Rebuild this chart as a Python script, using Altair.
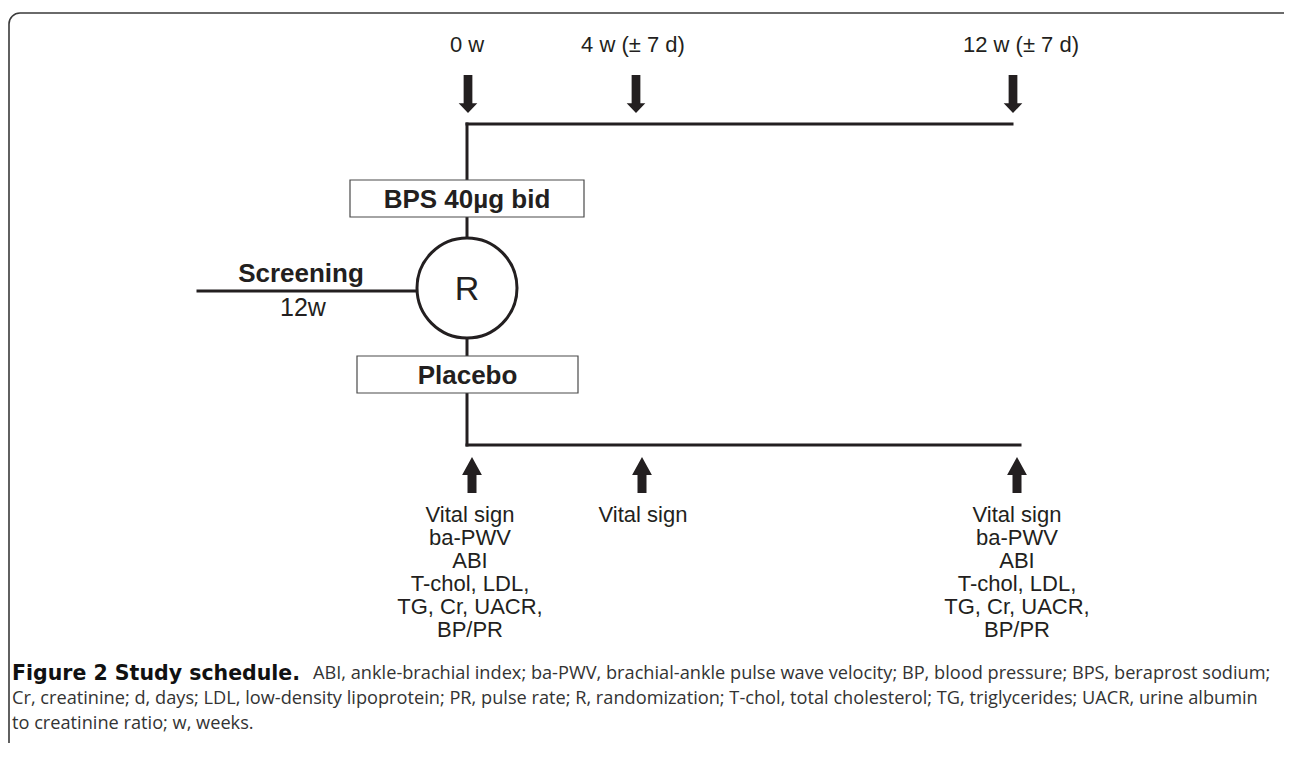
import altair as alt
import pandas as pd

# ---------------- canvas / coordinate system (pixel-like units) ----------------
W, H = 1276, 735
X0, Y0 = 8, 8
XS = alt.Scale(domain=[X0, X0 + W], nice=False, zero=False)
YS = alt.Scale(domain=[Y0, Y0 + H], nice=False, zero=False, reverse=True)

INK = "#231f20"
FONT = "Liberation Sans"
CAP_FONT = "Open Sans"
CAP_BOLD_FONT = "DejaVu Sans"

# ---------------- data ----------------
# timeline labels (top)
top_labels = ["0 w", "4 w (\u00b1 7 d)", "12 w (\u00b1 7 d)"]
top_label_x = [467, 633, 1021]
top_label_y = [45, 45, 45]

# downward arrows (visits, top)
down_arrow_x = [468, 636, 1013]
down_arrow_y = [94, 94, 94]

# upward arrows (visits, bottom)
up_arrow_x = [472, 642, 1017]
up_arrow_y = [475, 475, 475]

# connecting line segments
seg_x1 = [198, 467, 467, 467, 467, 467, 467]
seg_x2 = [418, 1012, 467, 467, 467, 467, 1020]
seg_y1 = [291, 124, 124, 217, 338, 393, 445]
seg_y2 = [291, 124, 180, 238, 356, 445, 445]

# treatment boxes
box_labels = ["BPS 40\u00b5g bid", "Placebo"]
box_x1 = [350, 357]
box_x2 = [584, 578]
box_y1 = [180, 356]
box_y2 = [217, 393]

# randomisation circle
circle_x = [467]
circle_y = [288]
circle_label = ["R"]

# screening
screen_labels = ["Screening", "12w"]
screen_x = [301, 303]
screen_y = [274, 308]
screen_bold = ["bold", "normal"]

# assessments under bottom arrows
assess_full = ["Vital sign", "ba-PWV", "ABI", "T-chol, LDL,", "TG, Cr, UACR,", "BP/PR"]
assess_mid = ["Vital sign"]
assess_col_x = [470, 643, 1017]
assess_top_y = 515
assess_step = 23

# caption
cap_bold = "Figure 2 Study schedule."
cap_lines = [
    "ABI, ankle-brachial index; ba-PWV, brachial-ankle pulse wave velocity; BP, blood pressure; BPS, beraprost sodium;",
    "Cr, creatinine; d, days; LDL, low-density lipoprotein; PR, pulse rate; R, randomization; T-chol, total cholesterol; TG, triglycerides; UACR, urine albumin",
    "to creatinine ratio; w, weeks.",
]
cap_x = [313, 12, 12]
cap_y = [674, 699, 724]

# outer frame (rounded panel, open at bottom/right beyond the page)
frame_x1, frame_y1, frame_x2, frame_y2 = [9], [13], [1310], [800]

# ---------------- helpers ----------------
def X(f):
    return alt.X(f, type="quantitative", scale=XS, axis=None)

def Y(f):
    return alt.Y(f, type="quantitative", scale=YS, axis=None)

# ---------------- layers ----------------
frame = alt.Chart(pd.DataFrame({"x": frame_x1, "y": frame_y1, "x2": frame_x2, "y2": frame_y2})).mark_rect(
    fill=None, fillOpacity=0, stroke="#3a3a3a", strokeWidth=1.6, cornerRadius=11, clip=True
).encode(x=X("x"), y=Y("y"), x2="x2", y2="y2")

segs = alt.Chart(pd.DataFrame({"x": seg_x1, "x2": seg_x2, "y": seg_y1, "y2": seg_y2})).mark_rule(
    color=INK, strokeWidth=3, strokeCap="square"
).encode(x=X("x"), x2="x2", y=Y("y"), y2="y2")

boxes_df = pd.DataFrame({"x": box_x1, "x2": box_x2, "y": box_y1, "y2": box_y2, "label": box_labels})
boxes_df["cx"] = (boxes_df["x"] + boxes_df["x2"]) / 2
boxes_df["cy"] = (boxes_df["y"] + boxes_df["y2"]) / 2
boxes = alt.Chart(boxes_df).mark_rect(fill="white", stroke="#4a4a4a", strokeWidth=1.2).encode(
    x=X("x"), x2="x2", y=Y("y"), y2="y2"
)
box_text = alt.Chart(boxes_df).mark_text(
    font=FONT, fontSize=26, fontWeight="bold", color=INK, align="center", baseline="middle", dy=1
).encode(x=X("cx"), y=Y("cy"), text="label:N")

circ_df = pd.DataFrame({"x": circle_x, "y": circle_y, "label": circle_label})
circle = alt.Chart(circ_df).mark_point(
    shape="circle", size=10000, filled=False, stroke=INK, strokeWidth=3, opacity=1, fill="white", fillOpacity=1
).encode(x=X("x"), y=Y("y"))
circle_text = alt.Chart(circ_df).mark_text(
    font=FONT, fontSize=34, color=INK, align="center", baseline="middle", dy=2
).encode(x=X("x"), y=Y("y"), text="label:N")

DOWN = "M -0.23 -1 L 0.23 -1 L 0.23 0.49 L 0.49 0.49 L 0 1 L -0.49 0.49 L -0.23 0.49 Z"
UP = "M 0 -1 L 0.55 0 L 0.25 0 L 0.25 1 L -0.25 1 L -0.25 0 L -0.55 0 Z"
down_arrows = alt.Chart(pd.DataFrame({"x": down_arrow_x, "y": down_arrow_y})).mark_point(
    shape=DOWN, size=38 * 38, filled=True, color=INK, opacity=1, strokeWidth=0
).encode(x=X("x"), y=Y("y"))
up_arrows = alt.Chart(pd.DataFrame({"x": up_arrow_x, "y": up_arrow_y})).mark_point(
    shape=UP, size=36 * 36, filled=True, color=INK, opacity=1, strokeWidth=0
).encode(x=X("x"), y=Y("y"))

top_text = alt.Chart(pd.DataFrame({"x": top_label_x, "y": top_label_y, "label": top_labels})).mark_text(
    font=FONT, fontSize=22, color=INK, align="center", baseline="middle"
).encode(x=X("x"), y=Y("y"), text="label:N")

scr_df = pd.DataFrame({"x": screen_x, "y": screen_y, "label": screen_labels, "w": screen_bold})
scr_bold = alt.Chart(scr_df[scr_df.w == "bold"]).mark_text(
    font=FONT, fontSize=26, fontWeight="bold", color=INK, align="center", baseline="middle"
).encode(x=X("x"), y=Y("y"), text="label:N")
scr_norm = alt.Chart(scr_df[scr_df.w == "normal"]).mark_text(
    font=FONT, fontSize=25, color=INK, align="center", baseline="middle"
).encode(x=X("x"), y=Y("y"), text="label:N")

rows = []
for ci, cx in enumerate(assess_col_x):
    items = assess_mid if ci == 1 else assess_full
    for i, t in enumerate(items):
        rows.append({"x": cx, "y": assess_top_y + assess_step * i, "label": t})
assess = alt.Chart(pd.DataFrame(rows)).mark_text(
    font=FONT, fontSize=22, color=INK, align="center", baseline="middle"
).encode(x=X("x"), y=Y("y"), text="label:N")

cap_b = alt.Chart(pd.DataFrame({"x": [12], "y": [cap_y[0]], "label": [cap_bold]})).mark_text(
    font=CAP_BOLD_FONT, fontSize=20.5, fontWeight="bold", color="#111111", align="left", baseline="middle"
).encode(x=X("x"), y=Y("y"), text="label:N")
cap_r = alt.Chart(pd.DataFrame({"x": cap_x, "y": cap_y, "label": cap_lines})).mark_text(
    font=CAP_FONT, fontSize=18.2, color="#333333", align="left", baseline="middle"
).encode(x=X("x"), y=Y("y"), text="label:N")

chart = alt.layer(
    frame, segs, boxes, box_text, circle, circle_text, down_arrows, up_arrows,
    top_text, scr_bold, scr_norm, assess, cap_b, cap_r
).properties(width=W, height=H, padding=0, autosize="none", background="white").configure_view(strokeWidth=0)

chart.save("out.html", embed_options={"renderer": "svg", "actions": False})
